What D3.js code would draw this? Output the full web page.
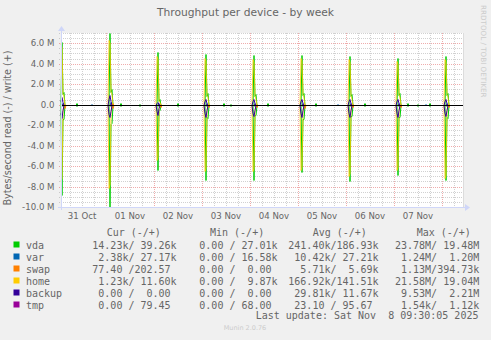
<!DOCTYPE html>
<html>
<head>
<meta charset="utf-8">
<script src="https://cdn.jsdelivr.net/npm/d3@7"></script>
<style>
  html, body { margin: 0; padding: 0; background: #f0f0f0; }
  svg { display: block; }
  text { fill: #666; }
  .mono { font-family: "DejaVu Sans Mono", monospace; font-size: 10px; white-space: pre; }
</style>
</head>
<body>
<svg id="chart" width="491" height="340"></svg>
<script>
// devices, in munin drawing order
const devices = ['vda', 'var', 'swap', 'home', 'backup', 'tmp'];
const colors = ['#00cc00', '#0066b3', '#ff8000', '#ffcc00', '#330099', '#990099'];

// nightly spike at 02:00, values in MB/s, one entry per night
const spikeTimes = ['2025-10-31T02:00Z', '2025-11-01T02:00Z', '2025-11-02T02:00Z', '2025-11-03T02:00Z',
    '2025-11-04T02:00Z', '2025-11-05T02:00Z', '2025-11-06T02:00Z', '2025-11-07T02:00Z', '2025-11-08T02:00Z'];
const vdaWritePeak = [6.1, 7.0, 5.1, 4.9, 4.85, 4.85, 4.8, 4.6, 4.8];
const vdaReadPeak = [-8.8, -10.0, -6.4, -7.4, -7.4, -6.55, -7.5, -6.9, -7.4];
const vdaWriteNext = [1.0, 1.2, 0.4, 0.8, 0.8, 0.9, 0.8, 0.9, 0.9];
const vdaReadNext = [-1.4, -1.9, -0.6, -1.2, -1.0, -1.4, -1.1, -1.2, -1.2];
const vdaWriteAfter = [1.2, 1.5, 0.6, 1.1, 1.0, 1.1, 1.0, 1.1, 1.1];
const vdaReadAfter = [-1.4, -1.8, -0.5, -1.3, -1.0, -1.4, -1.1, -1.2, -1.3];
const homeWritePrev = [6.0, 6.3, 4.8, 4.6, 4.5, 4.6, 4.5, 4.3, 4.5];
const homeReadPrev = [-7.5, -8.1, -5.4, -6.5, -6.5, -6.4, -7.0, -6.4, -7.2];
const homeWritePeak = [5.6, 6.0, 4.5, 4.3, 4.2, 4.3, 4.2, 4.0, 4.2];
const homeReadPeak = [-7.2, -7.8, -5.1, -6.2, -6.2, -6.1, -6.7, -6.1, -6.9];
const homeWriteNext = [1.1, 1.3, 0.5, 0.9, 0.9, 1.0, 0.9, 1.0, 1.0];
const homeReadNext = [-0.6, -0.7, -0.3, -0.5, -0.5, -0.6, -0.5, -0.5, -0.5];
const homeWriteAfter = [0.8, 1.0, 0.3, 0.7, 0.6, 0.7, 0.6, 0.7, 0.7];
const backupWritePrev = [0.4, 0.6, 0.2, 0.4, 0.4, 0.4, 0.4, 0.4, 0.4];
const backupReadPrev = [-0.8, -0.9, -0.6, -0.8, -0.8, -0.8, -0.8, -0.8, -0.8];
const backupWrite = [0.7, 0.95, 0.3, 0.6, 0.6, 0.6, 0.6, 0.6, 0.6];
const backupRead = [-1.3, -1.2, -1.0, -1.2, -1.1, -1.2, -1.2, -1.2, -1.1];
const backupWriteNext = [0.3, 0.4, 0.1, 0.2, 0.2, 0.2, 0.2, 0.2, 0.2];
const backupReadNext = [-0.5, -0.6, -0.3, -0.5, -0.5, -0.5, -0.5, -0.5, -0.5];
const swapWrite = [0.1, 0.15, 0.05, 0.1, 0.1, 0.1, 0.1, 0.1, 0.1];
const swapRead = [-0.3, -0.3, -0.2, -0.25, -0.2, -0.3, -0.25, -0.2, -0.25];
const varWrite = [0.2, 0.25, 0.15, 0.2, 0.2, 0.2, 0.2, 0.2, 0.2];
const varRead = [-0.1, -0.15, -0.1, -0.1, -0.1, -0.1, -0.1, -0.1, -0.1];
const tmpWrite = [0.1, 0.1, 0.05, 0.1, 0.1, 0.1, 0.1, 0.1, 0.1];
const tmpRead = [-0.05, -0.05, -0.05, -0.05, -0.05, -0.05, -0.05, -0.05, -0.05];

// small daytime activity: [time, write, read]
const vdaBlips = [['2025-10-31T09:30Z', 0.15, -0.1], ['2025-11-01T07:30Z', 0.2, -0.15], ['2025-11-01T17:00Z', 0.1, -0.1],
    ['2025-11-02T12:00Z', 0.2, -0.15], ['2025-11-03T11:00Z', 0.15, -0.1], ['2025-11-03T14:30Z', 0.1, -0.1],
    ['2025-11-04T09:00Z', 0.15, -0.1], ['2025-11-05T09:00Z', 0.2, -0.1], ['2025-11-06T09:30Z', 0.2, -0.15],
    ['2025-11-07T07:00Z', 0.15, -0.1], ['2025-11-07T12:00Z', 0.1, -0.1], ['2025-11-07T18:00Z', 0.15, -0.1]];
const varBlips = [['2025-10-31T17:00Z', 0.1, -0.05], ['2025-11-05T20:00Z', 0.1, -0.05], ['2025-11-07T16:00Z', 0.1, -0.05]];

const yTicks = [6, 4, 2, 0, -2, -4, -6, -8, -10];
const dayLabels = ['31 Oct', '01 Nov', '02 Nov', '03 Nov', '04 Nov', '05 Nov', '06 Nov', '07 Nov'];

const legendCur = ['14.23k/ 39.26k', ' 2.38k/ 27.17k', '77.40 /202.57', ' 1.23k/ 11.60k', ' 0.00 /  0.00', ' 0.00 / 79.45'];
const legendMin = [' 0.00 / 27.01k', ' 0.00 / 16.58k', ' 0.00 /  0.00', ' 0.00 /  9.87k', ' 0.00 /  0.00', ' 0.00 / 68.00'];
const legendAvg = ['241.40k/186.93k', ' 10.42k/ 27.21k', '  5.71k/  5.69k', '166.92k/141.51k', ' 29.81k/ 11.67k', ' 23.10 / 95.67'];
const legendMax = ['23.78M/ 19.48M', ' 1.24M/  1.20M', ' 1.13M/394.73k', '21.58M/ 19.04M', ' 9.53M/  2.21M', ' 1.54k/  1.12k'];

const STEP = 30 * 60 * 1000;
const tStart = Date.UTC(2025, 9, 31, 1, 30);
const tEnd = Date.UTC(2025, 10, 8, 10, 30);
const nSamples = Math.round((tEnd - tStart) / STEP) + 1;

const pLeft = 61, pRight = 463, pTop = 33, pBottom = 207;
const svg = d3.select('#chart');

const x = d3.scaleUtc().domain([tStart, tEnd]).range([pLeft, pRight]);
const y = d3.scaleLinear().domain([-10, 7]).range([pBottom, pTop]);

svg.append('rect').attr('width', 491).attr('height', 340).attr('fill', '#f0f0f0');
svg.append('rect').attr('x', pLeft).attr('y', pTop).attr('width', pRight - pLeft).attr('height', pBottom - pTop).attr('fill', '#ffffff');

// grid
const grid = svg.append('g').attr('shape-rendering', 'crispEdges');
const minorY = d3.range(-10, 7.01, 0.5).filter(v => Math.abs(v % 2) > 0.01);
grid.selectAll('.hmin').data(minorY).enter().append('line')
    .attr('x1', pLeft - 2).attr('x2', pRight).attr('y1', d => Math.round(y(d)) + 0.5).attr('y2', d => Math.round(y(d)) + 0.5)
    .attr('stroke', 'rgba(140,140,140,0.4)').attr('stroke-dasharray', '1,1');
const minorX = d3.utcHour.every(6).range(new Date(tStart), new Date(tEnd)).filter(d => d.getUTCHours() !== 0);
grid.selectAll('.vmin').data(minorX).enter().append('line')
    .attr('y1', pTop).attr('y2', pBottom + 2).attr('x1', d => Math.round(x(d)) + 0.5).attr('x2', d => Math.round(x(d)) + 0.5)
    .attr('stroke', 'rgba(140,140,140,0.4)').attr('stroke-dasharray', '1,1');
grid.selectAll('.hmaj').data(yTicks).enter().append('line')
    .attr('x1', pLeft - 2).attr('x2', pRight).attr('y1', d => Math.round(y(d)) + 0.5).attr('y2', d => Math.round(y(d)) + 0.5)
    .attr('stroke', 'rgba(220,70,70,0.45)').attr('stroke-dasharray', '1,1');
const majorX = d3.utcDay.range(new Date(tStart), new Date(tEnd));
grid.selectAll('.vmaj').data(majorX).enter().append('line')
    .attr('y1', pTop).attr('y2', pBottom + 2).attr('x1', d => Math.round(x(d)) + 0.5).attr('x2', d => Math.round(x(d)) + 0.5)
    .attr('stroke', 'rgba(220,70,70,0.45)').attr('stroke-dasharray', '1,1');
grid.append('line').attr('x1', pRight + 0.5).attr('x2', pRight + 0.5).attr('y1', pTop).attr('y2', pBottom)
    .attr('stroke', '#dcdcdc');

// build series from the sparse readings (everything else sits at 0)
const idx = t => Math.round((new Date(t).getTime() - tStart) / STEP);
function series(events) {
    const vals = new Array(nSamples).fill(0);
    events.forEach(([i, v]) => { if (i >= 0 && i < nSamples) vals[i] = v; });
    return vals.map((v, i) => [tStart + i * STEP, v]);
}
const around = (arr, offset) => arr.map((v, k) => [idx(spikeTimes[k]) + offset, v]);

const data = {
    vda: [series(around(vdaWritePeak, 0).concat(around(vdaWriteNext, 1), around(vdaWriteAfter, 2), vdaBlips.map(b => [idx(b[0]), b[1]]))),
          series(around(vdaReadPeak, 0).concat(around(vdaReadNext, 1), around(vdaReadAfter, 2), vdaBlips.map(b => [idx(b[0]), b[2]])))],
    var: [series(around(varWrite, 1).concat(varBlips.map(b => [idx(b[0]), b[1]]))),
          series(around(varRead, 1).concat(varBlips.map(b => [idx(b[0]), b[2]])))],
    swap: [series(around(swapWrite, 3)), series(around(swapRead, 3))],
    home: [series(around(homeWritePrev, -1).concat(around(homeWritePeak, 0), around(homeWriteNext, 1), around(homeWriteAfter, 2))),
           series(around(homeReadPrev, -1).concat(around(homeReadPeak, 0), around(homeReadNext, 1)))],
    backup: [series(around(backupWritePrev, -1).concat(around(backupWrite, 0), around(backupWriteNext, 1))),
             series(around(backupReadPrev, -1).concat(around(backupRead, 0), around(backupReadNext, 1)))],
    tmp: [series(around(tmpWrite, 1)), series(around(tmpRead, 1))]
};

const line = d3.line().x(d => x(d[0])).y(d => Math.round(y(Math.max(-10, Math.min(7, d[1])))) + 0.5);
const plot = svg.append('g');
devices.forEach((dev, i) => {
    data[dev].forEach(s => {
        plot.append('path').attr('d', line(s)).attr('fill', 'none')
            .attr('stroke', colors[i]).attr('stroke-width', 1)
            .attr('stroke-opacity', dev === 'home' ? 0.8 : 1);
    });
});
plot.append('line').attr('x1', pLeft).attr('x2', pRight).attr('y1', Math.round(y(0)) + 0.5).attr('y2', Math.round(y(0)) + 0.5)
    .attr('stroke', '#000').attr('stroke-width', 1);

// axes
const axisColor = '#cfd6f8';
svg.append('line').attr('x1', pLeft - 3).attr('x2', pRight + 3).attr('y1', pBottom + 0.5).attr('y2', pBottom + 0.5).attr('stroke', axisColor);
svg.append('line').attr('x1', pLeft + 0.5).attr('x2', pLeft + 0.5).attr('y1', pBottom + 3).attr('y2', pTop - 3).attr('stroke', axisColor);
svg.append('path').attr('d', `M${pRight + 2},${pBottom - 3}L${pRight + 7},${pBottom + 0.5}L${pRight + 2},${pBottom + 4}Z`).attr('fill', axisColor);
svg.append('path').attr('d', `M${pLeft - 3},${pTop - 2}L${pLeft + 0.5},${pTop - 7}L${pLeft + 4},${pTop - 2}Z`).attr('fill', axisColor);

svg.append('g').selectAll('text').data(yTicks).enter().append('text')
    .attr('x', 54.5).attr('y', d => y(d) + 3)
    .attr('text-anchor', 'end').style('font-family', 'DejaVu Sans').style('font-size', '8.6px')
    .text(d => d === 0 ? '0.0' : d.toFixed(1) + ' M');

svg.append('g').selectAll('text').data(dayLabels).enter().append('text')
    .attr('x', (d, i) => x(d3.utcHour.offset(majorX[0], -12 + 24 * i)))
    .attr('y', 218.5).attr('text-anchor', 'middle')
    .style('font-family', 'DejaVu Sans').style('font-size', '8.6px')
    .text(d => d);

// titles
svg.append('text').attr('x', 245.5).attr('y', 16).attr('text-anchor', 'middle')
    .style('font-family', 'DejaVu Sans').style('font-size', '10.7px').text('Throughput per device - by week');
svg.append('text').attr('transform', 'translate(11,128) rotate(-90)').attr('text-anchor', 'middle')
    .style('font-family', 'DejaVu Sans').style('font-size', '9.6px').text('Bytes/second read (-) / write (+)');
svg.append('text').attr('transform', 'translate(481,5) rotate(90)')
    .style('font-family', 'DejaVu Sans').style('font-size', '7.2px').style('fill', '#cccccc')
    .text('RRDTOOL / TOBI OETIKER');

// legend
const legend = svg.append('g').attr('class', 'mono');
[['Cur (-/+)', 106.7], ['Min (-/+)', 210], ['Avg (-/+)', 312.7], ['Max (-/+)', 416.7]].forEach(([t, px]) => {
    legend.append('text').attr('class', 'mono').attr('x', px).attr('y', 235.5).text(t);
});
devices.forEach((dev, i) => {
    const by = 248.5 + 12 * i;
    legend.append('rect').attr('x', 13.5).attr('y', by - 7).attr('width', 6).attr('height', 6).attr('fill', colors[i]);
    legend.append('text').attr('class', 'mono').attr('x', 26).attr('y', by).text(dev);
    legend.append('text').attr('class', 'mono').attr('x', 92.3).attr('y', by).text(legendCur[i]);
    legend.append('text').attr('class', 'mono').attr('x', 193.3).attr('y', by).text(legendMin[i]);
    legend.append('text').attr('class', 'mono').attr('x', 288.3).attr('y', by).text(legendAvg[i]);
    legend.append('text').attr('class', 'mono').attr('x', 395).attr('y', by).text(legendMax[i]);
});
legend.append('text').attr('class', 'mono').attr('x', 255.7).attr('y', 318.5).text('Last update: Sat Nov  8 09:30:05 2025');
svg.append('text').attr('x', 245).attr('y', 330).attr('text-anchor', 'middle')
    .style('font-family', 'DejaVu Sans').style('font-size', '6.5px').style('fill', '#cccccc').text('Munin 2.0.76');
</script>
</body>
</html>
